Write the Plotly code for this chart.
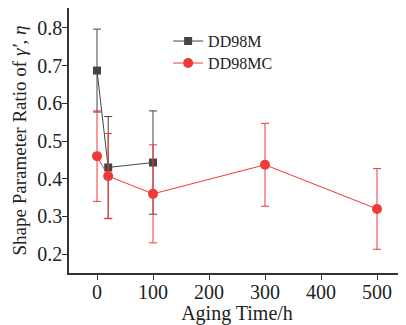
import plotly.graph_objects as go

x_m = [0, 20, 100]
y_m = [0.687, 0.430, 0.443]
err_m = [0.110, 0.135, 0.137]

x_mc = [0, 20, 100, 300, 500]
y_mc = [0.460, 0.407, 0.360, 0.437, 0.320]
err_mc = [0.120, 0.113, 0.130, 0.110, 0.107]

fig = go.Figure()
fig.add_trace(go.Scatter(
    x=x_m, y=y_m, name="DD98M", mode="lines+markers", legend="legend",
    line=dict(color="#454545", width=1),
    marker=dict(symbol="square", size=8, color="#454545"),
    error_y=dict(type="data", array=err_m, color="#454545", thickness=1, width=4),
))
fig.add_trace(go.Scatter(
    x=x_mc, y=y_mc, name="DD98MC", mode="lines+markers", legend="legend2",
    line=dict(color="#f03a3a", width=1),
    marker=dict(symbol="circle", size=10, color="#f03a3a"),
    error_y=dict(type="data", array=err_mc, color="#f03a3a", thickness=1, width=4),
))

font = "Liberation Serif"
leg = dict(x=0.295, xanchor="left", yanchor="middle",
           bgcolor="rgba(0,0,0,0)", font=dict(family=font, size=16, color="#222"),
           itemwidth=30)
fig.update_layout(
    width=398, height=317,
    margin=dict(l=61, r=1, t=0, b=52),
    paper_bgcolor="white", plot_bgcolor="white",
    font=dict(family=font, size=20, color="#222"),
    showlegend=True,
    legend=dict(leg, y=0.875),
    legend2=dict(leg, y=0.792),
    xaxis=dict(range=[-50, 550], tickvals=[0, 100, 200, 300, 400, 500],
               ticks="outside", ticklen=5, tickcolor="#333",
               tickfont=dict(family=font, size=20), ticklabelstandoff=-5,
               showline=True, linecolor="#333", linewidth=1.5, mirror=True,
               showgrid=False, zeroline=False, automargin=False,
               title=dict(text="Aging Time/h", font=dict(family=font, size=20), standoff=5)),
    yaxis=dict(range=[0.15, 0.853], tickvals=[0.2, 0.3, 0.4, 0.5, 0.6, 0.7, 0.8],
               ticktext=["0.2", "0.3", "0.4", "0.5", "0.6", "0.7", "0.8"],
               ticks="outside", ticklen=5, tickcolor="#333",
               tickfont=dict(family=font, size=20), ticklabelstandoff=-4,
               showline=True, linecolor="#333", linewidth=1.5, mirror=True,
               showgrid=False, zeroline=False, automargin=False,
               title=dict(text="Shape Parameter Ratio of <i>γ′</i>, <i>η</i>", font=dict(family=font, size=19), standoff=6)),
)
fig.write_html("out.html")
